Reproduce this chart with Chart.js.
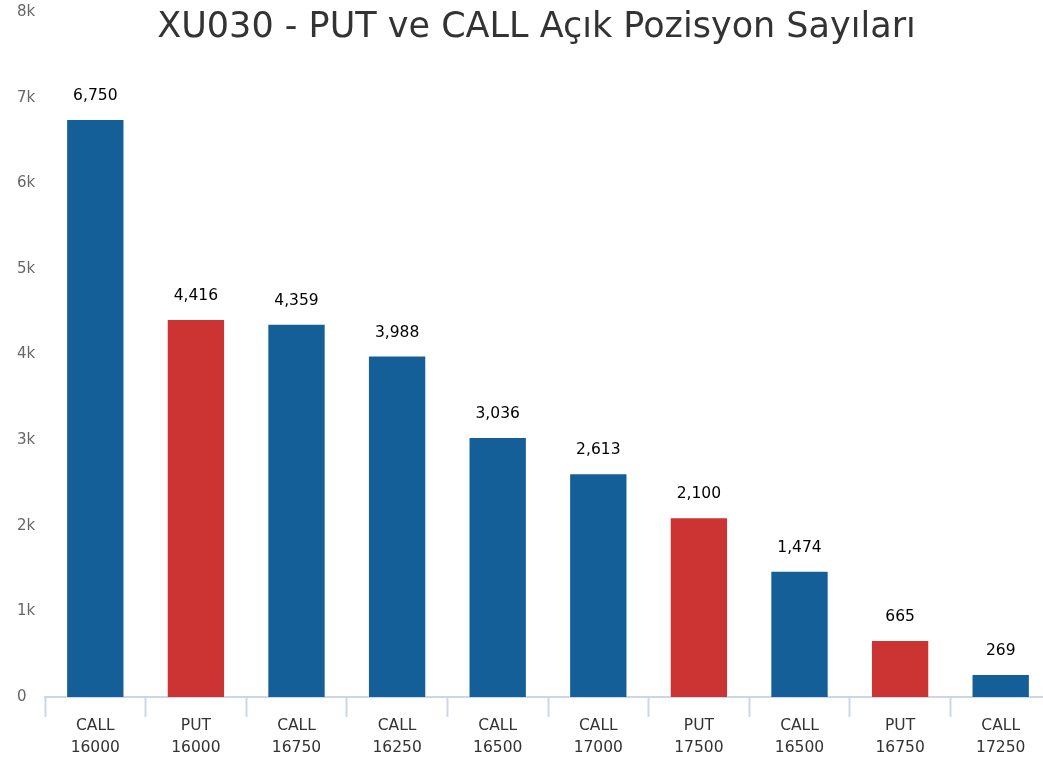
<!DOCTYPE html>
<html>
<head>
<meta charset="utf-8">
<script src="https://cdn.jsdelivr.net/npm/chart.js@4"></script>
<style>
html,body{margin:0;padding:0;background:#fff;overflow:hidden;width:1043px;height:758px;}
#wrap{position:absolute;left:0;top:0;width:1051px;height:758px;}
</style>
</head>
<body>
<div id="wrap"><canvas id="c" width="1051" height="758"></canvas></div>
<script>
const titleText = 'XU030 - PUT ve CALL Açık Pozisyon Sayıları';
const types = ['CALL','PUT','CALL','CALL','CALL','CALL','PUT','CALL','PUT','CALL'];
const strikes = ['16000','16000','16750','16250','16500','17000','17500','16500','16750','17250'];
const values = [6750, 4416, 4359, 3988, 3036, 2613, 2100, 1474, 665, 269];
const yTicks = [0,1000,2000,3000,4000,5000,6000,7000,8000];
const callColor = '#155f99';
const putColor = '#cc3333';

const labels = types.map((t,i)=>[t, strikes[i]]);
const colors = types.map(t => t === 'PUT' ? putColor : callColor);
const FONT = '"DejaVu Sans", Verdana, sans-serif';

const titlePlugin = {
  id: 'customTitle',
  afterDraw(chart){
    const ctx = chart.ctx;
    ctx.save();
    ctx.font = '35px ' + FONT;
    ctx.fillStyle = '#333333';
    ctx.textAlign = 'center';
    ctx.textBaseline = 'alphabetic';
    ctx.fillText(titleText, 536.5, 37);
    ctx.restore();
  }
};

const valueLabels = {
  id: 'valueLabels',
  afterDatasetsDraw(chart){
    const ctx = chart.ctx;
    const meta = chart.getDatasetMeta(0);
    ctx.save();
    ctx.font = '15.5px ' + FONT;
    ctx.fillStyle = '#000000';
    ctx.textAlign = 'center';
    ctx.textBaseline = 'middle';
    meta.data.forEach((bar, i) => {
      ctx.fillText(values[i].toLocaleString('en-US'), bar.x, bar.y - 23);
    });
    ctx.restore();
  }
};

new Chart(document.getElementById('c'), {
  type: 'bar',
  data: {
    labels: labels,
    datasets: [{
      data: values,
      backgroundColor: colors,
      borderColor: 'rgba(255,255,255,0.35)',
      borderWidth: 1,
      barPercentage: 0.58,
      categoryPercentage: 1.0
    }]
  },
  options: {
    responsive: false,
    animation: false,
    layout: { padding: { left: 17, right: 0, top: 12, bottom: 0 } },
    plugins: {
      legend: { display: false },
      title: { display: false },
      tooltip: { enabled: false }
    },
    scales: {
      x: {
        grid: {
          display: true,
          drawOnChartArea: false,
          drawTicks: true,
          tickLength: 20,
          tickWidth: 2,
          color: '#ccd6eb',
          offset: true
        },
        border: { display: true, color: '#ccd6eb', width: 2 },
        ticks: {
          color: '#333333',
          font: { family: FONT, size: 15.5, lineHeight: 22/15.5 },
          padding: -2,
          maxRotation: 0,
          autoSkip: false
        },
        afterFit(scale){ scale.height = 61; }
      },
      y: {
        min: 0,
        max: 8000,
        afterBuildTicks(scale){ scale.ticks = yTicks.map(v => ({ value: v })); },
        grid: { display: false },
        border: { display: false },
        ticks: {
          color: '#666666',
          font: { family: FONT, size: 15 },
          crossAlign: 'far',
          padding: 0,
          callback: v => v === 0 ? '0' : (v/1000) + 'k'
        },
        afterFit(scale){ scale.width = 28; }
      }
    }
  },
  plugins: [titlePlugin, valueLabels]
});
</script>
</body>
</html>
